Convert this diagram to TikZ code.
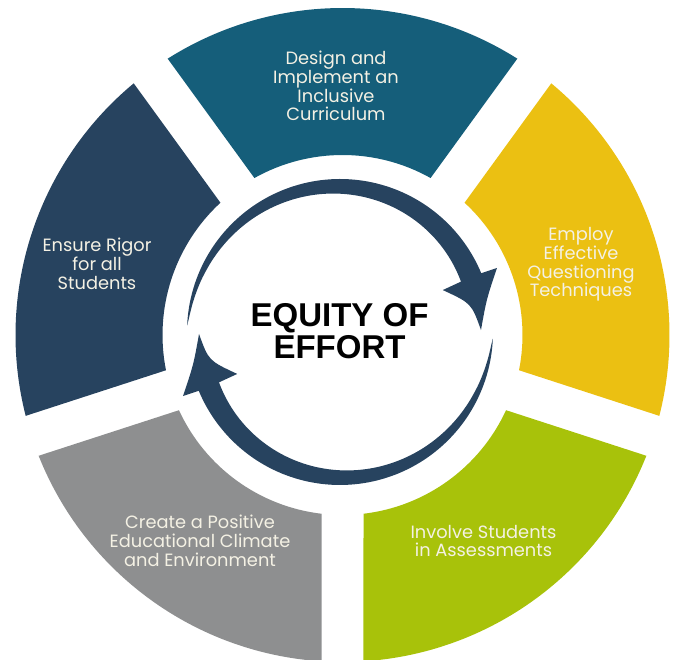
\documentclass[tikz,border=0pt]{standalone}
\usepackage{fontspec}
\setmainfont{Poppins}
\newfontfamily\titlefont{Liberation Sans}
\definecolor{cteal}{HTML}{155E7A}
\definecolor{cnavy}{HTML}{27435F}
\definecolor{cyellow}{HTML}{EBC012}
\definecolor{cgreen}{HTML}{A8C20A}
\definecolor{cgray}{HTML}{8E8F90}
\definecolor{ctext}{HTML}{F4F1E4}
\tikzset{
  segtext/.style={text=ctext, align=center, font=\fontsize{17.8}{18.7}\selectfont, inner sep=0pt},
  titletext/.style={text=black, align=center, font=\titlefont\bfseries\fontsize{33}{32}\selectfont, inner sep=0pt},
  arrowfill/.style={fill=cnavy}
}
\begin{document}
\begin{tikzpicture}[x=1pt,y=1pt]
\useasboundingbox (0,0) rectangle (677,660);
% ring segments
\begin{scope}[shift={(342.5,325)}]
\foreach \c/\col in {90/cteal, 18/cyellow, -54/cgreen, -126/cgray, 162/cnavy}{
  \fill[\col] (\c-32.32:327) arc[start angle=\c-32.32, end angle=\c+32.32, radius=327]
     -- (\c+29.3:180) arc[start angle=\c+29.3, end angle=\c-29.3, radius=180] -- cycle;
}
\end{scope}
% circular arrows
\begin{scope}[shift={(340,328)}]
\foreach \rot in {0,180}{
  \begin{scope}[rotate=\rot]
    \fill[arrowfill] plot[domain=177.5:22, samples=90] (\x:153)
      -- plot[domain=22:177.5, samples=90] (\x:{153-22*((177.5-\x)/155.5)^0.7}) -- cycle;
    \fill[arrowfill] (22.6:153) -- (22.2:169.5) .. controls (12.5:150) .. (0.8:141)
      .. controls (12.3:134.5) .. (22.2:111) -- (22.6:131) -- cycle;
  \end{scope}
}
\end{scope}
% texts
\node[titletext] (title) at (339.5,328.5) {EQUITY OF\\EFFORT};
\node[segtext] (design) at (336,574) {Design and\\Implement an\\Inclusive\\Curriculum};
\node[segtext] (employ) at (581,395.5) {Employ\\Effective\\Questioning\\Techniques};
\node[segtext] (rigor) at (97,396) {Ensure Rigor\\for all\\Students};
\node[segtext] (climate) at (200,119) {Create a Positive\\Educational Climate\\and Environment};
\node[segtext] (involve) at (483.5,119) {Involve Students\\in Assessments};
\end{tikzpicture}
\end{document}
